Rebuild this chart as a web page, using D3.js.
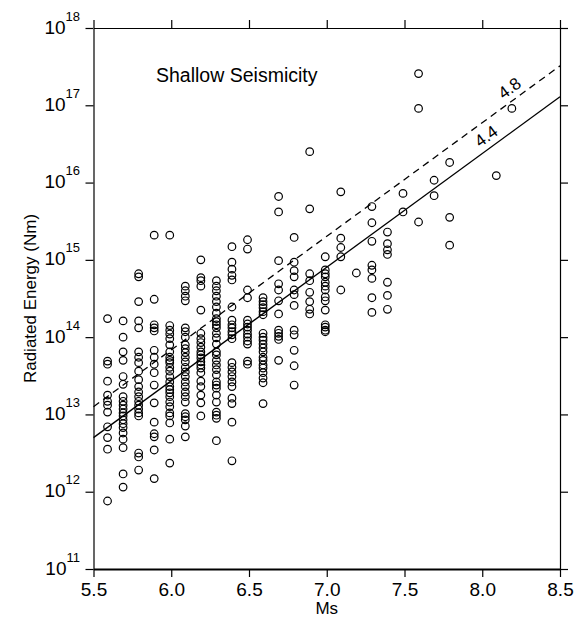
<!DOCTYPE html>
<html>
<head>
<meta charset="utf-8">
<script src="https://cdn.jsdelivr.net/npm/d3@7"></script>
<style>
body { margin: 0; background: #fff; }
svg { font-family: "Liberation Sans", Arial, sans-serif; }
</style>
</head>
<body>
<svg id="chart" width="575" height="620"></svg>
<script>
// Ms columns and log10 radiated energy (Nm)
const msValues = [5.6, 5.7, 5.8, 5.9, 6.0, 6.1, 6.2, 6.3, 6.4, 6.5, 6.6, 6.7, 6.8,
    6.9, 7.0, 7.1, 7.2, 7.3, 7.4, 7.5, 7.6, 7.7, 7.8, 8.1, 8.2];

const logEnergy = [
    [14.24, 13.69, 13.65, 13.43, 13.25, 13.17, 13.12, 13.03, 12.84, 12.70, 12.55, 11.88],
    [14.21, 14.00, 13.81, 13.70, 13.49, 13.39, 13.23, 13.17, 13.12, 13.07, 13.02, 12.98, 12.93, 12.88, 12.83, 12.76, 12.68, 12.57, 12.23, 12.06],
    [14.82, 14.78, 14.46, 14.21, 14.12, 13.81, 13.74, 13.67, 13.56, 13.45, 13.36, 13.29, 13.23, 13.17, 13.12, 13.07, 13.02, 12.98, 12.50, 12.45, 12.28],
    [15.32, 14.49, 14.16, 14.12, 14.08, 13.83, 13.74, 13.65, 13.54, 13.38, 13.15, 12.90, 12.75, 12.71, 12.54, 12.17],
    [15.32, 14.15, 14.09, 14.04, 13.98, 13.90, 13.81, 13.74, 13.70, 13.67, 13.61, 13.56, 13.49, 13.42, 13.36, 13.32, 13.28, 13.23, 13.16, 13.10, 13.02, 12.98, 12.89, 12.68, 12.37],
    [14.66, 14.60, 14.53, 14.47, 14.12, 14.07, 14.00, 13.90, 13.85, 13.80, 13.74, 13.68, 13.61, 13.55, 13.49, 13.42, 13.36, 13.29, 13.23, 13.16, 13.01, 12.97, 12.93, 12.85, 12.71],
    [15.00, 14.77, 14.73, 14.66, 14.35, 14.05, 13.98, 13.93, 13.87, 13.81, 13.77, 13.73, 13.68, 13.64, 13.60, 13.54, 13.43, 13.36, 13.25, 13.15, 12.98],
    [14.73, 14.66, 14.60, 14.53, 14.46, 14.39, 14.31, 14.24, 14.20, 14.16, 14.12, 14.05, 13.99, 13.91, 13.81, 13.77, 13.70, 13.64, 13.58, 13.51, 13.42, 13.38, 13.34, 13.25, 13.16, 13.03, 12.99, 12.95, 12.66],
    [15.17, 14.97, 14.88, 14.80, 14.74, 14.39, 14.22, 14.16, 14.12, 14.07, 14.03, 13.98, 13.67, 13.61, 13.55, 13.49, 13.42, 13.36, 13.21, 13.14, 12.90, 12.40],
    [15.26, 15.14, 14.61, 14.51, 14.22, 14.17, 14.13, 14.09, 14.04, 14.00, 13.95, 13.91, 13.69, 13.65],
    [14.51, 14.46, 14.42, 14.38, 14.33, 14.29, 14.05, 14.00, 13.96, 13.91, 13.86, 13.81, 13.74, 13.70, 13.64, 13.60, 13.54, 13.47, 13.41, 13.14],
    [15.82, 15.62, 14.99, 14.69, 14.61, 14.47, 14.30, 14.09, 14.05, 14.01, 13.97, 13.70],
    [15.29, 14.97, 14.86, 14.78, 14.61, 14.55, 14.41, 14.09, 14.03, 13.83, 13.63, 13.38],
    [16.40, 15.66, 14.82, 14.73, 14.58, 14.46, 14.36, 14.30],
    [15.04, 14.87, 14.82, 14.78, 14.71, 14.66, 14.61, 14.52, 14.47, 14.35, 14.16, 14.13, 14.09, 14.07],
    [15.88, 15.28, 15.16, 15.04, 14.61],
    [14.83],
    [15.69, 15.48, 15.24, 14.93, 14.87, 14.76, 14.51, 14.32],
    [15.36, 15.21, 15.13, 15.07, 14.71, 14.54, 14.36],
    [15.86, 15.62],
    [17.41, 16.96, 15.49],
    [16.03, 15.83],
    [16.26, 15.55, 15.19],
    [16.09],
    [16.96]
];

// fit lines (log10 E at the two plot edges)
const lineMs = [5.5, 8.5];
const solidLogE = [12.70, 17.11];
const dashedLogE = [13.10, 17.51];
const lineLabels = ["4.4", "4.8"];
const labelMs = [8.07, 8.22];

const xTicks = [5.5, 6.0, 6.5, 7.0, 7.5, 8.0, 8.5];
const yExponents = [11, 12, 13, 14, 15, 16, 17, 18];

const svg = d3.select("#chart");

const plotLeft = 93.5, plotRight = 560, plotTop = 28, plotBottom = 569;

const x = d3.scaleLinear().domain([5.5, 8.5]).range([plotLeft, plotRight]);
const y = d3.scaleLog().domain([1e11, 1e18]).range([plotBottom, plotTop]);

const points = msValues.flatMap((ms, i) => logEnergy[i].map(v => ({ ms, e: Math.pow(10, v) })));

// axes
const gBottom = svg.append("g")
    .attr("transform", `translate(0,${plotBottom})`)
    .call(d3.axisBottom(x).tickValues(xTicks).tickFormat(d3.format(".1f"))
        .tickSize(8).tickSizeOuter(0).tickPadding(6));

svg.append("g")
    .attr("transform", `translate(0,${plotTop})`)
    .call(d3.axisTop(x).tickValues(xTicks).tickFormat("").tickSize(8).tickSizeOuter(0));

const gLeft = svg.append("g")
    .attr("transform", `translate(${plotLeft},0)`)
    .call(d3.axisLeft(y).tickValues(yExponents.map(p => Math.pow(10, p)))
        .tickSize(8).tickSizeOuter(0));

svg.append("g")
    .attr("transform", `translate(${plotRight},0)`)
    .call(d3.axisRight(y).tickValues(yExponents.map(p => Math.pow(10, p)))
        .tickFormat("").tickSize(8).tickSizeOuter(0));

svg.selectAll(".tick line, .domain").attr("stroke", "#000").attr("stroke-width", 1.2);
gBottom.select(".domain").attr("stroke-width", 2);

gBottom.selectAll(".tick text")
    .attr("font-family", "Liberation Sans, Arial, sans-serif")
    .attr("font-size", 19)
    .attr("fill", "#000");

gLeft.selectAll(".tick text").each(function (d) {
    const t = d3.select(this);
    t.text(null)
        .attr("x", -13.5)
        .attr("y", 5)
        .attr("dy", null)
        .attr("text-anchor", "end")
        .attr("fill", "#000")
        .attr("font-family", "Liberation Sans, Arial, sans-serif");
    t.append("tspan").attr("font-size", 19).text("10");
    t.append("tspan").attr("font-size", 13).attr("dy", -13).text(Math.round(Math.log10(d)));
});

// fit lines
const line = d3.line().x(d => x(d[0])).y(d => y(Math.pow(10, d[1])));

svg.append("path")
    .datum(lineMs.map((m, i) => [m, solidLogE[i]]))
    .attr("d", line)
    .attr("fill", "none")
    .attr("stroke", "#000")
    .attr("stroke-width", 1.3);

svg.append("path")
    .datum(lineMs.map((m, i) => [m, dashedLogE[i]]))
    .attr("d", line)
    .attr("fill", "none")
    .attr("stroke", "#000")
    .attr("stroke-width", 1.3)
    .attr("stroke-dasharray", "7,5");

const angle = Math.atan2(y(Math.pow(10, solidLogE[1])) - y(Math.pow(10, solidLogE[0])),
    x(lineMs[1]) - x(lineMs[0])) * 180 / Math.PI;

[solidLogE, dashedLogE].forEach((ends, i) => {
    const m = labelMs[i];
    const v = ends[0] + (ends[1] - ends[0]) * (m - lineMs[0]) / (lineMs[1] - lineMs[0]);
    svg.append("text")
        .attr("transform", `translate(${x(m)},${y(Math.pow(10, v))}) rotate(${angle})`)
        .attr("y", -6)
        .attr("text-anchor", "middle")
        .attr("font-size", 17)
        .text(lineLabels[i]);
});

// data points
svg.append("g")
    .selectAll("circle")
    .data(points)
    .enter()
    .append("circle")
    .attr("cx", d => x(d.ms) - 1.5)
    .attr("cy", d => y(d.e))
    .attr("r", 3.8)
    .attr("fill", "none")
    .attr("stroke", "#000")
    .attr("stroke-width", 1.2);

// labels
svg.append("text")
    .attr("x", 156)
    .attr("y", 82)
    .attr("font-size", 19.5)
    .text("Shallow Seismicity");

svg.append("text")
    .attr("x", (plotLeft + plotRight) / 2)
    .attr("y", 614)
    .attr("text-anchor", "middle")
    .attr("font-size", 17)
    .text("Ms");

svg.append("text")
    .attr("transform", `translate(36,${(plotTop + plotBottom) / 2}) rotate(-90)`)
    .attr("text-anchor", "middle")
    .attr("font-size", 17)
    .text("Radiated Energy (Nm)");
</script>
</body>
</html>
